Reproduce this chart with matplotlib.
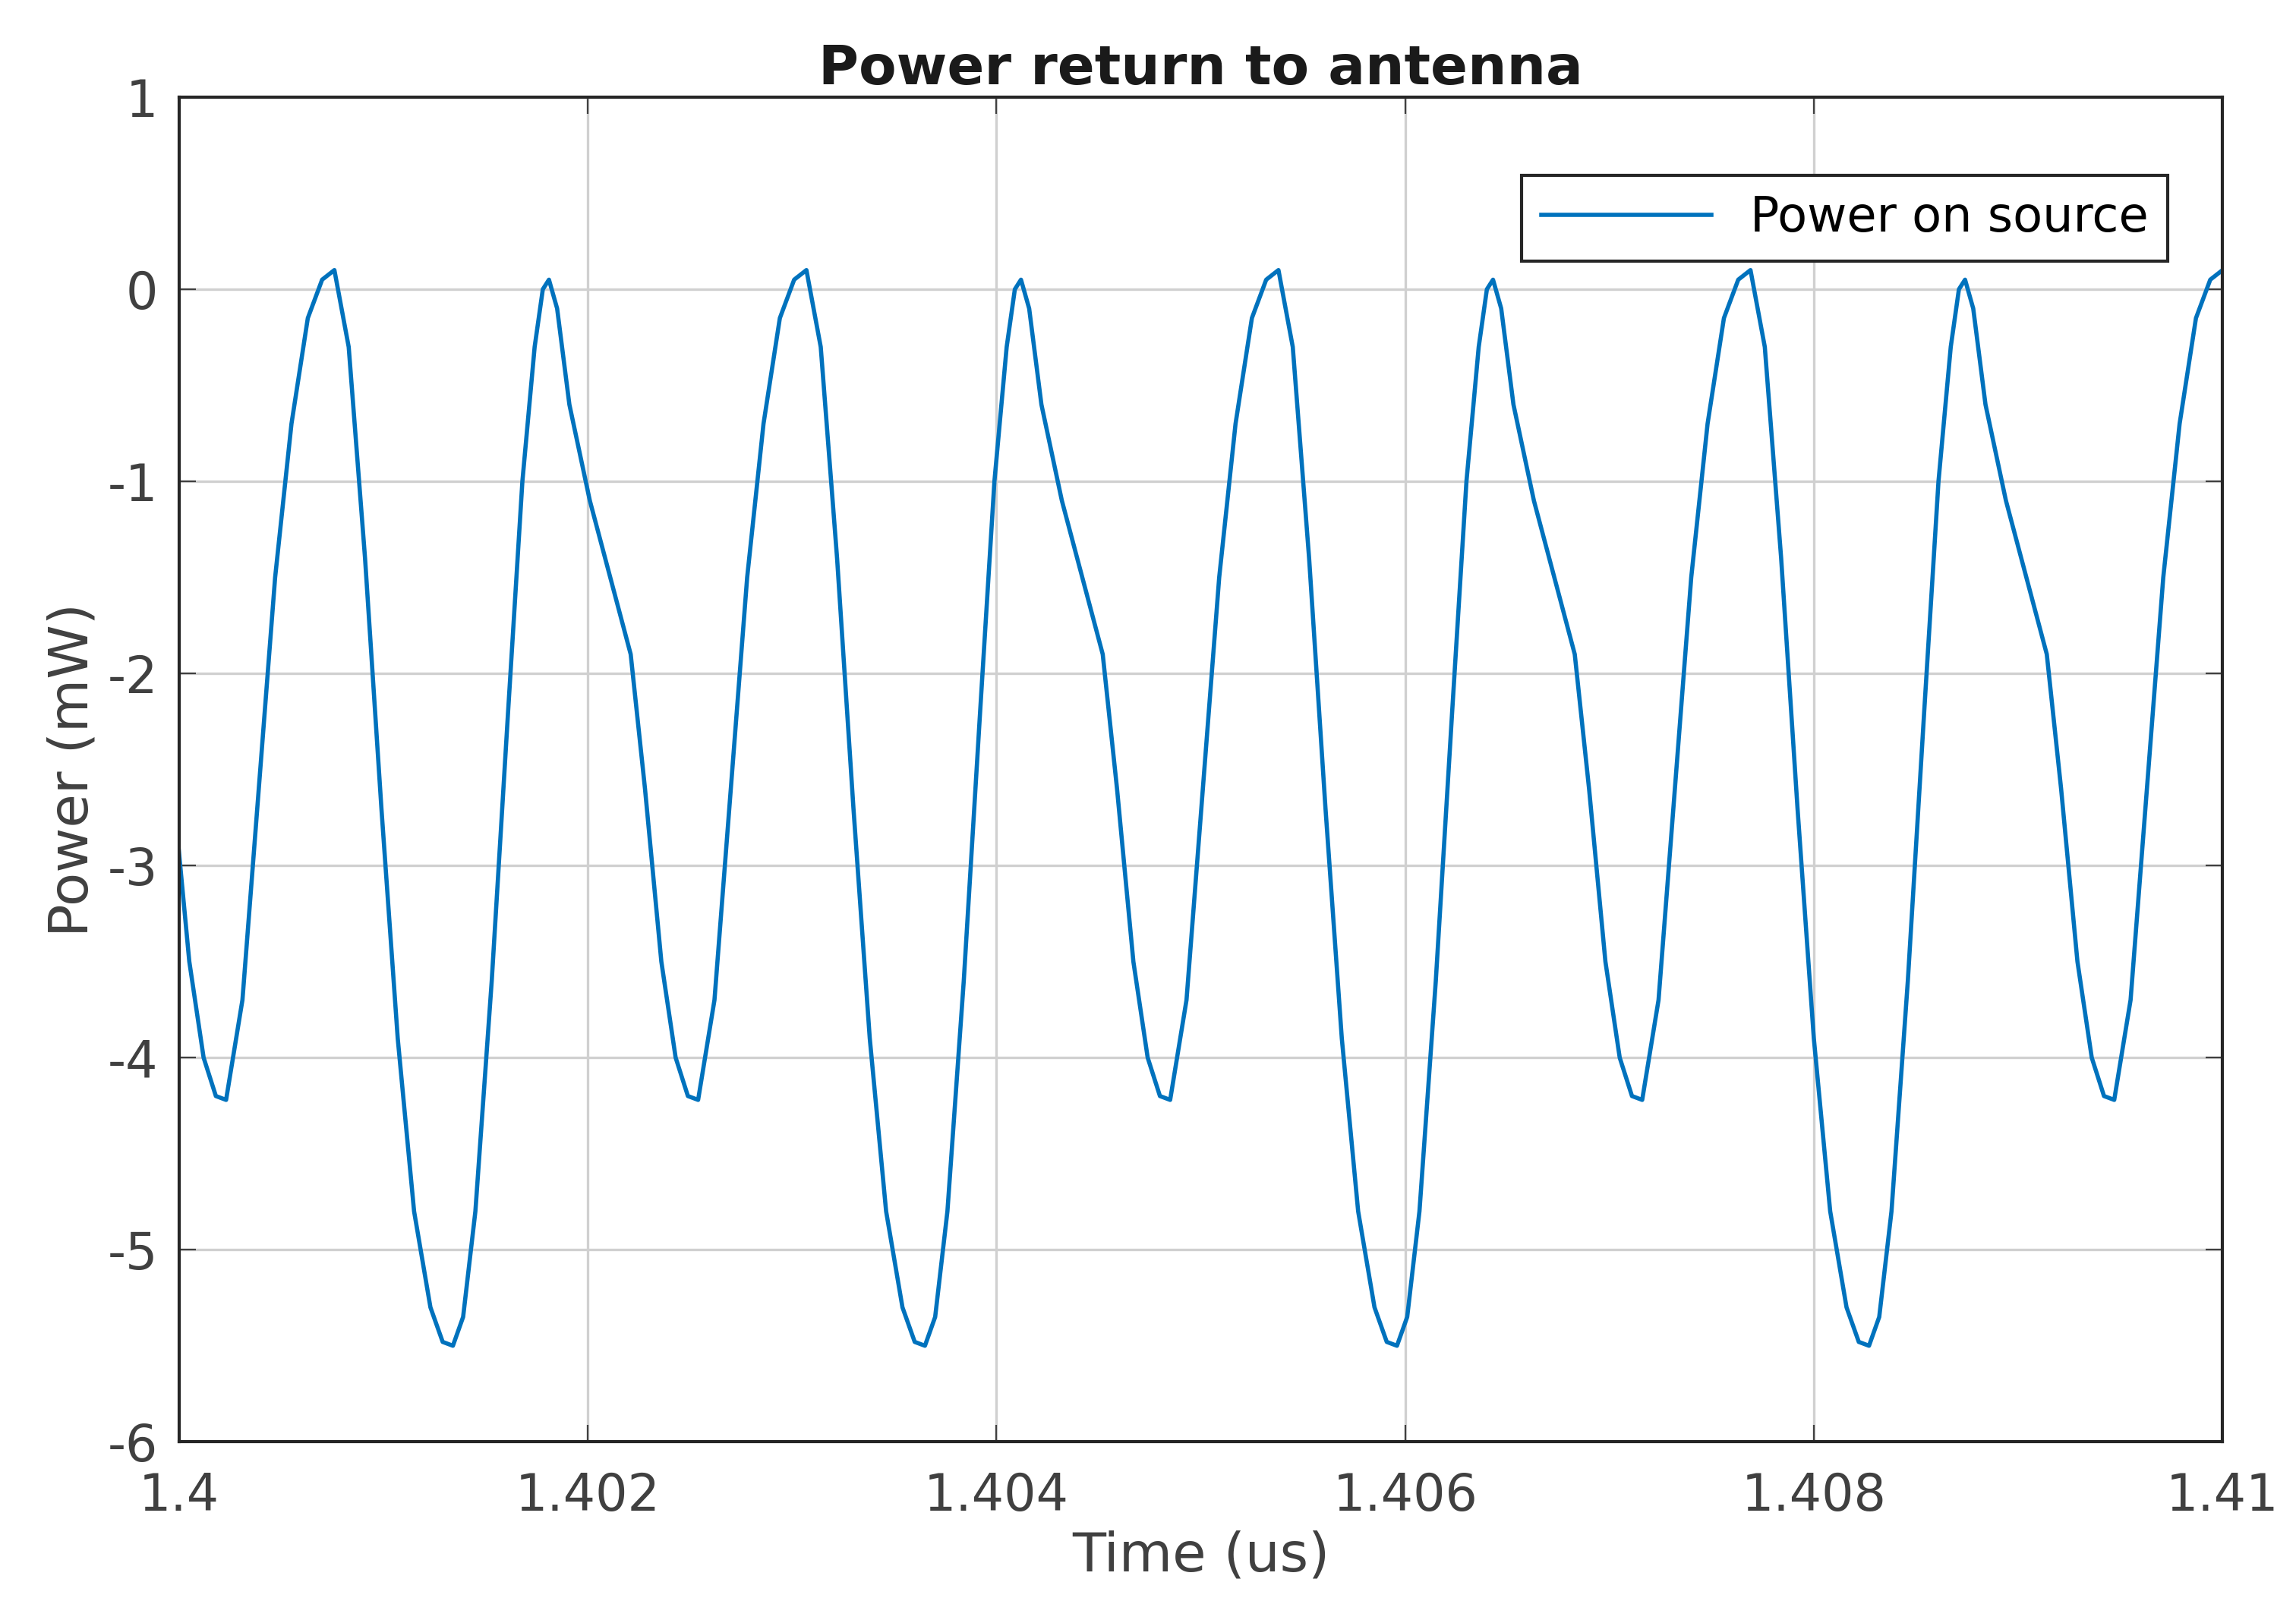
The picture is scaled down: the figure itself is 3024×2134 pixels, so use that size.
import matplotlib.pyplot as plt
import numpy as np

# times (us) of the shallow minima
cycle_starts = [1.39792, 1.40023, 1.40254, 1.40485, 1.40716, 1.40947]

# one cycle of the waveform (offset in 1e-5 us, power in mW)
shape_offset = [0, 8, 16, 24, 32, 40, 47, 53, 60, 68, 76, 84, 92, 100, 106, 111,
                116, 122, 130, 138, 145, 151, 155, 158, 162, 168, 178, 188, 198,
                205, 213, 220, 226]
shape_power = [-4.22, -3.7, -2.6, -1.5, -0.7, -0.15, 0.05, 0.1, -0.3, -1.4, -2.7,
               -3.9, -4.8, -5.3, -5.48, -5.5, -5.35, -4.8, -3.6, -2.2, -1.0, -0.3,
               0.0, 0.05, -0.1, -0.6, -1.1, -1.5, -1.9, -2.6, -3.5, -4.0, -4.2]

t = []
p = []
for s in cycle_starts:
    for o, v in zip(shape_offset, shape_power):
        t.append(s + o * 1e-5)
        p.append(v)

plt.rcParams['font.family'] = 'DejaVu Sans'
plt.rcParams['axes.unicode_minus'] = False
fig, ax = plt.subplots(figsize=(15.12, 10.67), dpi=200)
fig.subplots_adjust(left=0.078, right=0.968, top=0.94, bottom=0.11)

ax.plot(t, p, color='#0072BD', lw=2, label='Power on source')
ax.set_xlim(1.4, 1.41)
ax.set_ylim(-6, 1)
ax.set_xticks([1.4, 1.402, 1.404, 1.406, 1.408, 1.41])
ax.set_xticklabels(['1.4', '1.402', '1.404', '1.406', '1.408', '1.41'])
ax.set_yticks(range(-6, 2))
ax.tick_params(labelsize=24, colors='#404040', direction='in', length=8, top=True, right=True)
ax.tick_params(axis='x', pad=14)
ax.tick_params(axis='y', pad=10)
ax.grid(True, color='#d0d0d0', lw=1.2)
for sp in ax.spines.values():
    sp.set_color('#262626')
    sp.set_linewidth(1.5)

ax.set_title('Power return to antenna', fontsize=26, fontweight='bold', color='#1a1a1a')
ax.set_xlabel('Time (us)', fontsize=26, color='#404040', labelpad=4)
ax.set_ylabel('Power (mW)', fontsize=26, color='#404040')
leg = ax.legend(loc='upper right', fontsize=23, fancybox=False, framealpha=1,
                handlelength=3.5, bbox_to_anchor=(0.985, 0.96))
leg.get_frame().set_edgecolor('#262626')
leg.get_frame().set_linewidth(1.5)

plt.savefig('out.png')
